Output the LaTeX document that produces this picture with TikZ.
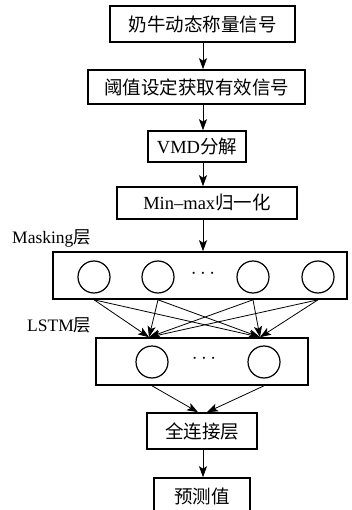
\documentclass[tikz,border=0pt]{standalone}
\usepackage{fontspec}
\setmainfont{Liberation Serif}
\newfontfamily\cjk{Noto Sans CJK SC}
\usetikzlibrary{arrows.meta}
\begin{document}
\begin{tikzpicture}[x=1pt,y=-1pt,
  box/.style={draw,line width=1.6pt,rectangle,inner sep=0pt,font=\fontsize{18.5}{21}\selectfont},
  layer/.style={draw,line width=1.6pt,rectangle,inner sep=0pt},
  neuron/.style={draw,line width=1.2pt,circle,minimum size=32pt,inner sep=0pt},
  arr/.style={line width=0.8pt,-{Stealth[length=11pt,width=8pt,inset=2.5pt]}},
  dots/.style={font=\fontsize{20}{22}\selectfont,inner sep=0pt},
  lbl/.style={font=\fontsize{17.5}{20}\selectfont,inner sep=0pt,anchor=west}]
\useasboundingbox (0,0) rectangle (352,510);
\fill[white] (0,0) rectangle (352,510);
\begin{scope}
\clip (0,0) rectangle (352,510);
\node[box,minimum width=185pt,minimum height=36pt] (b1) at (202.5,24) {\cjk 奶牛动态称量信号};
\node[box,minimum width=217pt,minimum height=34pt] (b2) at (196.5,87) {\cjk 阈值设定获取有效信号};
\node[box,minimum width=98pt,minimum height=31pt] (b3) at (197,146.5) {VMD{\cjk 分解}};
\node[box,minimum width=180pt,minimum height=32pt] (b4) at (207,203) {Min\textendash max{\cjk 归一化}};
\node[layer,minimum width=294pt,minimum height=47pt] (mask) at (200,275.5) {};
\node[layer,minimum width=212pt,minimum height=47pt] (lstm) at (202,361.5) {};
\node[box,minimum width=110pt,minimum height=36pt] (fc) at (202,431) {\cjk 全连接层};
\node[box,minimum width=96pt,minimum height=36pt] (pred) at (202,496) {\cjk 预测值};
\node[lbl] (lm) at (12,238) {Masking{\cjk 层}};
\node[lbl] (ll) at (27,325) {LSTM{\cjk 层}};
\node[neuron] (m1) at (94,277) {};
\node[neuron] (m2) at (158,277) {};
\node[neuron] (m3) at (253,277) {};
\node[neuron] (m4) at (318,277) {};
\node[dots] (md) at (203,274) {$\cdots$};
\node[neuron] (l1) at (152,362) {};
\node[neuron] (l2) at (264,362) {};
\node[dots] (ld) at (204,359) {$\cdots$};
\coordinate (ax) at (203,0);
\draw[arr] (b1.south -| ax) -- (b2.north -| ax);
\draw[arr] (b2.south -| ax) -- (b3.north -| ax);
\draw[arr] (b3.south -| ax) -- (b4.north -| ax);
\draw[arr] (b4.south -| ax) -- (mask.north -| ax);
\draw[arr] (fc.south -| ax) -- (pred.north -| ax);
\coordinate (t1) at (149,0);
\coordinate (t2) at (260,0);
\foreach \s in {m1,m2,m3,m4}{
  \draw[arr] (\s |- mask.south) -- (t1 |- lstm.north);
  \draw[arr] (\s |- mask.south) -- (t2 |- lstm.north);
}
\coordinate (f1) at (198,0);
\coordinate (f2) at (207,0);
\draw[arr] (l1 |- lstm.south) -- (f1 |- fc.north);
\draw[arr] (l2 |- lstm.south) -- (f2 |- fc.north);
\end{scope}
\end{tikzpicture}
\end{document}
